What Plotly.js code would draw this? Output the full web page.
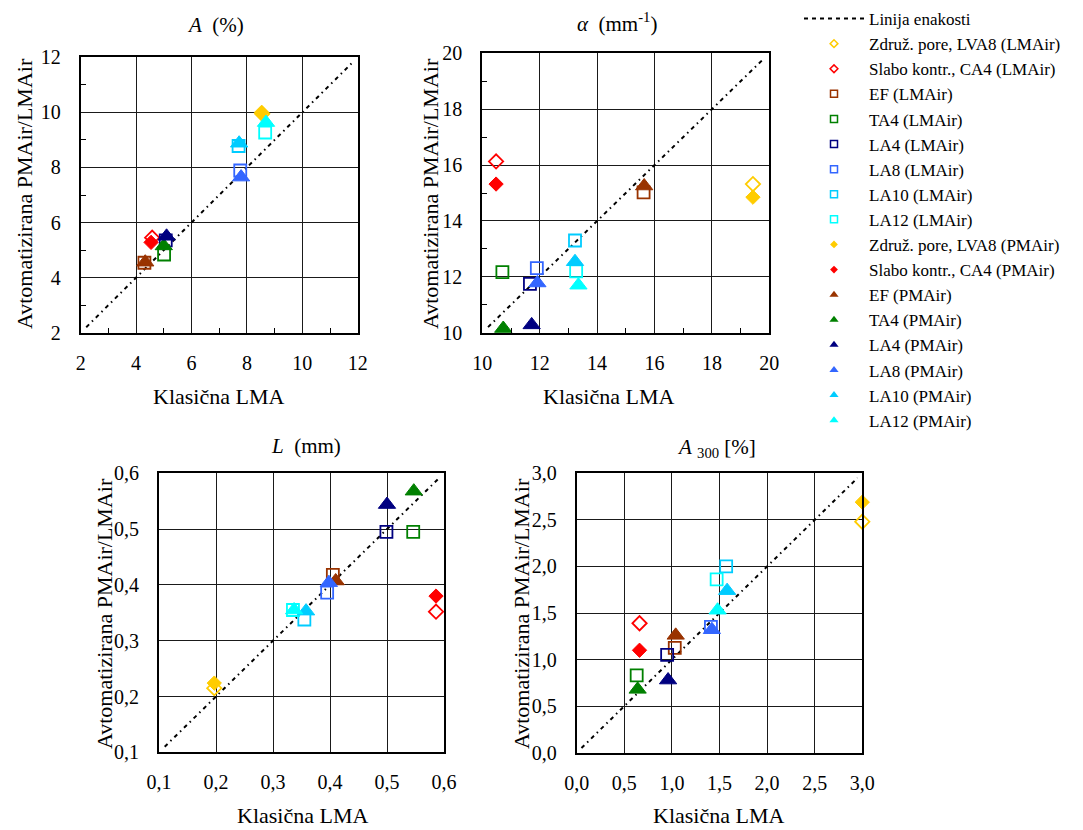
<!DOCTYPE html>
<html>
<head>
<meta charset="utf-8">
<script src="https://cdn.plot.ly/plotly-3.0.1.min.js"></script>
<style>html,body{margin:0;padding:0;background:#fff;}#chart{width:1083px;height:830px;}</style>
</head>
<body>
<div id="chart"></div>
<script>
// ---- Data ----
const seriesNames = ['Združ. pore, LVA8', 'Slabo kontr., CA4', 'EF', 'TA4', 'LA4', 'LA8', 'LA10', 'LA12'];
const seriesColors = ['#FFCC00', '#FF0000', '#993300', '#008000', '#000080', '#3366FF', '#00CCFF', '#00FFFF'];
const methodLabels = ['LMAir', 'PMAir'];
const equalityName = 'Linija enakosti';

// Panel 1: A (%)
const aLMx = [8.55, 4.58, 4.30, 5.01, 5.07, 7.76, 7.70, 8.66];
const aLMy = [9.95, 5.45, 4.54, 4.84, 5.35, 7.89, 8.78, 9.27];
const aPMx = [8.53, 4.54, 4.33, 5.00, 5.10, 7.79, 7.72, 8.69];
const aPMy = [10.00, 5.28, 4.56, 5.15, 5.50, 7.65, 8.88, 9.63];
const aLine = [2.2, 11.8];

// Panel 2: alpha (mm^-1)
const alLMx = [19.43, 10.48, 15.62, 10.70, 11.66, 11.90, 13.23, 13.27];
const alLMy = [15.32, 16.13, 15.02, 12.17, 11.75, 12.31, 13.30, 12.20];
const alPMx = [19.43, 10.48, 15.64, 10.73, 11.72, 11.92, 13.23, 13.35];
const alPMy = [14.85, 15.32, 15.25, 10.15, 10.28, 11.78, 12.54, 11.70];
const alLine = [10.2, 19.8];

// Panel 3: L (mm)
const lLMx = [0.197, 0.586, 0.405, 0.546, 0.499, 0.395, 0.355, 0.335];
const lLMy = [0.215, 0.352, 0.418, 0.495, 0.495, 0.386, 0.338, 0.355];
const lPMx = [0.197, 0.586, 0.410, 0.547, 0.500, 0.398, 0.358, 0.337];
const lPMy = [0.224, 0.380, 0.407, 0.568, 0.544, 0.404, 0.353, 0.355];
const lLine = [0.11, 0.59];

// Panel 4: A300 (%)
const a3LMx = [3.00, 0.66, 1.03, 0.63, 0.95, 1.41, 1.57, 1.47];
const a3LMy = [2.48, 1.39, 1.125, 0.83, 1.05, 1.35, 2.00, 1.86];
const a3PMx = [3.00, 0.66, 1.04, 0.64, 0.96, 1.42, 1.58, 1.48];
const a3PMy = [2.69, 1.10, 1.26, 0.68, 0.78, 1.32, 1.74, 1.53];
const a3Line = [0.05, 2.95];

// Axis ranges / ticks
const axA = {range: [2, 12], dtick: 2};
const axAl = {range: [10, 20], dtick: 2};
const axL = {range: [0.1, 0.6], dtick: 0.1};
const axA3 = {range: [0, 3], dtick: 0.5};

// Titles
const panelTitles = ['<i>A</i>  (%)', '<i>α</i>  (mm<sup>-1</sup>)', '<i>L</i>  (mm)', '<i>A</i> <sub>300</sub> [%]'];
const xTitle = 'Klasična LMA';
const yTitle = 'Avtomatizirana PMAir/LMAir';

// ---- Build ----
const FONT = 'Liberation Serif';
const panels = [
  {lmx: aLMx, lmy: aLMy, pmx: aPMx, pmy: aPMy, line: aLine, ax: axA, xa: 'x', ya: 'y'},
  {lmx: alLMx, lmy: alLMy, pmx: alPMx, pmy: alPMy, line: alLine, ax: axAl, xa: 'x2', ya: 'y2'},
  {lmx: lLMx, lmy: lLMy, pmx: lPMx, pmy: lPMy, line: lLine, ax: axL, xa: 'x3', ya: 'y3'},
  {lmx: a3LMx, lmy: a3LMy, pmx: a3PMx, pmy: a3PMy, line: a3Line, ax: axA3, xa: 'x4', ya: 'y4'}
];

const lmSymbol = i => (i < 2 ? 'diamond-open' : 'square-open');
const pmSymbol = i => (i < 2 ? 'diamond' : 'triangle-up');
const DASH = '4px,4px,1.5px,4px';

const traces = [];
// legend entries (small symbols as in the reference legend)
traces.push({x: [null], y: [null], type: 'scatter', mode: 'lines', name: equalityName,
  line: {color: '#000', width: 2, dash: '4px,4px'}, legendgroup: 'g0', showlegend: true, xaxis: 'x', yaxis: 'y'});
seriesNames.forEach((n, i) => {
  traces.push({x: [null], y: [null], type: 'scatter', mode: 'markers', name: n + ' (' + methodLabels[0] + ')',
    marker: {symbol: lmSymbol(i), size: i < 2 ? 6 : 7, color: seriesColors[i], line: {width: 1.5, color: seriesColors[i]}},
    legendgroup: 'l' + i, showlegend: true, xaxis: 'x', yaxis: 'y'});
});
seriesNames.forEach((n, i) => {
  traces.push({x: [null], y: [null], type: 'scatter', mode: 'markers', name: n + ' (' + methodLabels[1] + ')',
    marker: {symbol: pmSymbol(i), size: i < 2 ? 6 : 8, color: seriesColors[i], line: {width: 0}},
    legendgroup: 'p' + i, showlegend: true, xaxis: 'x', yaxis: 'y'});
});

panels.forEach(p => {
  traces.push({x: p.line, y: p.line, type: 'scatter', mode: 'lines', showlegend: false,
    line: {color: '#000', width: 2, dash: DASH}, xaxis: p.xa, yaxis: p.ya});
  seriesNames.forEach((n, i) => {
    traces.push({x: [p.lmx[i]], y: [p.lmy[i]], type: 'scatter', mode: 'markers', showlegend: false, cliponaxis: false,
      marker: {symbol: lmSymbol(i), size: i < 2 ? 11 : 12, color: seriesColors[i], line: {width: 1.8, color: seriesColors[i]}},
      xaxis: p.xa, yaxis: p.ya});
  });
  seriesNames.forEach((n, i) => {
    traces.push({x: [p.pmx[i]], y: [p.pmy[i]], type: 'scatter', mode: 'markers', showlegend: false, cliponaxis: false,
      marker: {symbol: pmSymbol(i), size: i < 2 ? 11 : 15, color: seriesColors[i], line: {width: 1, color: seriesColors[i]}},
      xaxis: p.xa, yaxis: p.ya});
  });
});

const W = 1083, H = 830;
const doms = [
  {x: [80.7 / W, 357.7 / W], y: [1 - 332.7 / H, 1 - 57.3 / H]},
  {x: [482.3 / W, 769.3 / W], y: [1 - 332.7 / H, 1 - 53.3 / H]},
  {x: [159 / W, 444 / W], y: [1 - 752.3 / H, 1 - 473.3 / H]},
  {x: [576.7 / W, 862.3 / W], y: [1 - 752.7 / H, 1 - 473.3 / H]}
];

function axis(p, d, isX, idx) {
  const a = {
    domain: isX ? d.x : d.y, range: p.ax.range, dtick: p.ax.dtick, tick0: p.ax.range[0], autorange: false,
    showline: true, linecolor: '#000', linewidth: 2, mirror: true,
    showgrid: true, gridcolor: '#1a1a1a', gridwidth: 1, zeroline: false,
    ticks: '', ticklabelstandoff: isX ? 11 : 14,
    tickfont: {family: FONT, size: 20, color: '#000'},
    tickformat: idx >= 2 ? '.1f' : 'd', fixedrange: true
  };
  if (idx < 2) a.minor = {dtick: p.ax.dtick / 2, ticks: 'inside', ticklen: 5, tickcolor: '#000', tickwidth: 1, showgrid: false};
  if (isX) a.anchor = 'y' + (idx === 0 ? '' : idx + 1);
  else a.anchor = 'x' + (idx === 0 ? '' : idx + 1);
  return a;
}

const layout = {
  width: W, height: H, margin: {l: 0, r: 0, t: 0, b: 0},
  paper_bgcolor: '#fff', plot_bgcolor: '#fff', separators: ', ',
  hovermode: false, showlegend: true,
  font: {family: FONT, color: '#000'},
  legend: {x: 799 / W, y: 1 - 1 / H, xanchor: 'left', yanchor: 'top', itemwidth: 60,
    font: {family: FONT, size: 17, color: '#000'}, tracegroupgap: 0, traceorder: 'normal', bgcolor: 'rgba(0,0,0,0)'},
  annotations: []
};
panels.forEach((p, i) => {
  const k = i === 0 ? '' : String(i + 1);
  layout['xaxis' + k] = axis(p, doms[i], true, i);
  layout['yaxis' + k] = axis(p, doms[i], false, i);
});

const titlePos = [[215, 25], [617, 23], [306, 446], [716, 448]];
const xTitlePos = [[218, 396], [608, 396], [302, 815], [718, 815]];
const yTitlePos = [[24, 194], [430, 194], [104, 614], [521, 614]];
const ann = (t, x, y, sz, rot) => ({text: t, x: x / W, y: 1 - y / H, xref: 'paper', yref: 'paper',
  showarrow: false, xanchor: 'center', yanchor: 'middle', textangle: rot || 0,
  font: {family: FONT, size: sz, color: '#000'}});
for (let i = 0; i < 4; i++) {
  layout.annotations.push(ann(panelTitles[i], titlePos[i][0], titlePos[i][1], 21));
  layout.annotations.push(ann(xTitle, xTitlePos[i][0], xTitlePos[i][1], 22));
  layout.annotations.push(ann(yTitle, yTitlePos[i][0], yTitlePos[i][1], 22, -90));
}

Plotly.newPlot('chart', traces, layout, {staticPlot: true, displayModeBar: false});
</script>
</body>
</html>
